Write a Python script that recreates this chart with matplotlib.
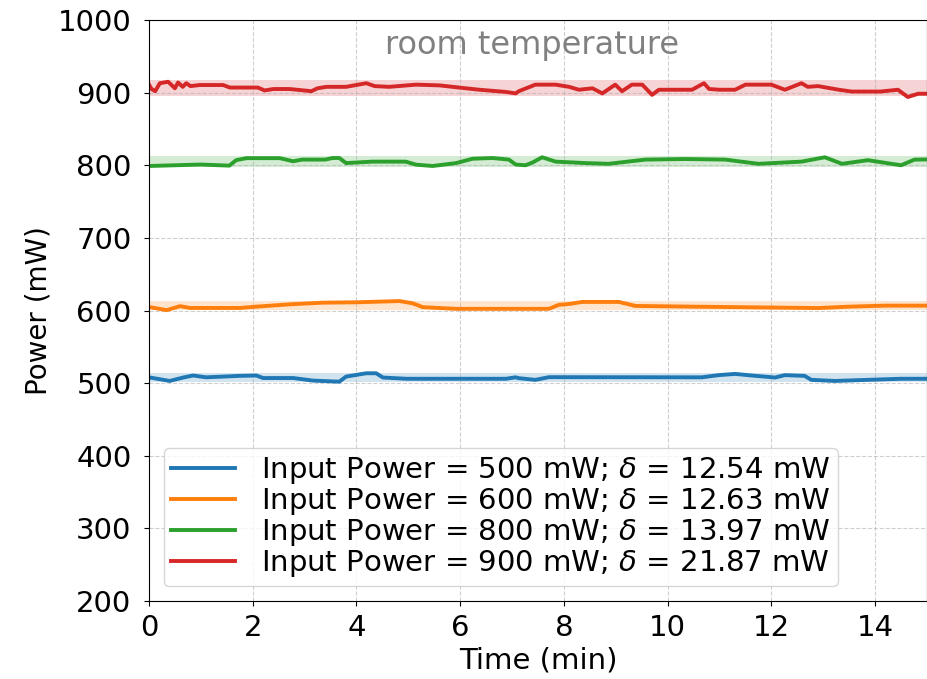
import numpy as np
import matplotlib
matplotlib.use("Agg")
import matplotlib.pyplot as plt

# values (time in min, power in mW)
t_500 = [0.0, 0.02, 0.4, 0.66, 0.85, 1.1, 1.75, 2.07, 2.2, 2.78, 3.16, 3.67, 3.8, 4.19, 4.38, 4.51,
         4.96, 6.88, 7.07, 7.13, 7.45, 7.71, 10.66, 10.98, 11.3, 11.62, 12.07, 12.26, 12.64, 12.77,
         13.22, 13.86, 14.5, 15.0]
p_500 = [507, 507.7, 503, 507.7, 510.5, 508, 510, 510.5, 507, 507, 503.5, 502, 509, 513.6, 513.6, 507.7,
         506, 506, 508, 506.8, 504.5, 508.2, 508, 511, 512.7, 510.5, 507.7, 511, 510, 504.5,
         503, 504.5, 506, 506]

t_600 = [0.0, 0.02, 0.34, 0.6, 0.79, 1.75, 2.07, 2.71, 3.35, 3.99, 4.83, 5.08, 5.28, 5.92, 7.52,
         7.71, 7.9, 8.1, 8.35, 9.06, 9.38, 10.5, 12.9, 13.5, 14.19, 15.0]
p_600 = [604.6, 604.6, 600.5, 606, 603.5, 603.5, 605.3, 608.5, 610.8, 611.3, 613, 610, 604.6, 602.3, 602.3,
         602.3, 607.8, 609, 611.8, 611.8, 606.3, 605.3, 603.4, 605.3, 606.7, 606.7]

t_800 = [0.0, 0.5, 1.0, 1.55, 1.68, 1.88, 2.52, 2.78, 2.95, 3.4, 3.54, 3.67, 3.8, 4.3, 4.95, 5.15,
         5.47, 5.92, 6.24, 6.62, 6.94, 7.07, 7.26, 7.4, 7.58, 7.84, 8.42, 8.86, 9.57, 10.34, 11.11,
         11.75, 12.58, 13.03, 13.36, 13.86, 14.5, 14.76, 15.0]
p_800 = [799, 800, 801, 799.5, 807, 809.8, 809.8, 805.5, 807.8, 807.8, 810, 810, 803, 805, 805, 800.8,
         799, 803, 809, 810, 807.8, 801, 800, 804, 811, 805, 803, 802, 807.8, 808.6, 807.8,
         802, 805, 811, 802, 807, 800, 807.8, 808]

t_900 = [0.0, 0.05, 0.12, 0.21, 0.37, 0.5, 0.56, 0.65, 0.72, 0.8, 0.98, 1.43, 1.56, 1.75, 2.1, 2.23,
         2.4, 2.71, 3.13, 3.25, 3.42, 3.8, 4.19, 4.35, 4.63, 5.15, 5.6, 5.98, 6.37, 6.88, 7.07,
         7.13, 7.45, 7.84, 8.1, 8.29, 8.55, 8.74, 8.99, 9.12, 9.31, 9.51, 9.7, 9.83, 10.47, 10.7,
         10.8, 11.0, 11.3, 11.5, 12.0, 12.26, 12.58, 12.7, 12.9, 13.3, 13.55, 14.1, 14.44, 14.63,
         14.83, 15.0]
p_900 = [911, 905, 902, 913, 915, 906, 914, 908, 913, 909, 910.5, 910.5, 907, 907, 907, 903,
         905, 905, 902, 906, 908, 908, 913, 909, 908, 911, 910, 907, 904, 901, 899,
         902, 911, 911, 908, 904, 906, 899, 911, 902, 911, 911, 897, 904, 904, 913,
         905, 904, 904, 911, 911, 904, 913, 908, 909, 904, 901.5, 901.5, 904, 894,
         898.5, 898.5]

nominal = [500, 600, 800, 900]
delta = [12.54, 12.63, 13.97, 21.87]
colors = ['#1f77b4', '#ff7f0e', '#2ca02c', '#d62728']
series = [(t_500, p_500), (t_600, p_600), (t_800, p_800), (t_900, p_900)]

fig = plt.figure(figsize=(9.27, 6.79), dpi=100)
ax = fig.add_axes([0.1607, 0.1149, 0.8393, 0.8556])

for (t, p), nom, d, c in zip(series, nominal, delta, colors):
    mean = np.mean(p)
    ax.axhspan(mean - d / 2, mean + d / 2, color=c, alpha=0.2, lw=0)
    ax.plot(t, p, color=c, lw=2.8,
            label=f'Input Power = {nom} mW; $\\delta$ = {d:.2f} mW')

ax.set_xlim(0, 15)
ax.set_ylim(200, 1000)
ax.set_xticks(np.arange(0, 15, 2))
ax.set_yticks(np.arange(200, 1001, 100))
ax.grid(True, linestyle='--', color='#b0b0b0', alpha=0.6)
ax.tick_params(labelsize=21)
ax.tick_params(axis='x', pad=6)
ax.tick_params(axis='y', pad=9)
ax.set_xlabel('Time (min)', fontsize=21, labelpad=3)
ax.set_ylabel('Power (mW)', fontsize=20)
ax.text(0.492, 0.957, 'room temperature', transform=ax.transAxes, ha='center', va='center',
        fontsize=23, color='gray')
ax.legend(loc='lower left', fontsize=21, handlelength=2.2, labelspacing=0.0,
          borderpad=0.25, handletextpad=0.9, bbox_to_anchor=(0.0, 0.0))

fig.savefig('out.png', dpi=100)
